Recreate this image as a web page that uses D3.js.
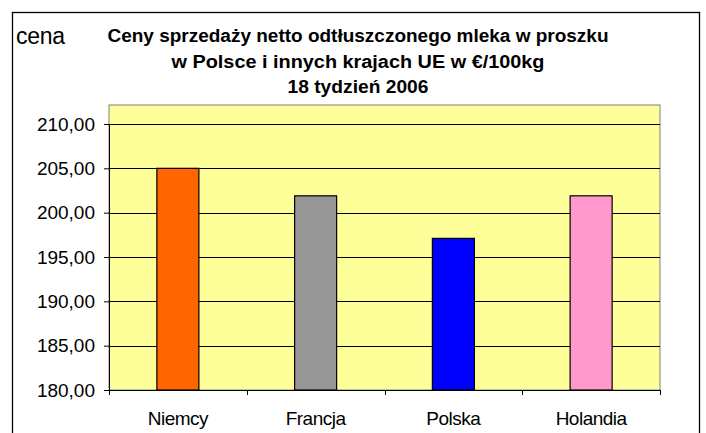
<!DOCTYPE html>
<html>
<head>
<meta charset="utf-8">
<script src="https://cdn.jsdelivr.net/npm/d3@7"></script>
<style>
  body { margin: 0; background: #fff; }
  svg { display: block; font-family: Arial, "Liberation Sans", sans-serif; }
</style>
</head>
<body>
<svg id="chart" width="706" height="433"></svg>
<script>
// dane
const countries = ["Niemcy", "Francja", "Polska", "Holandia"];
const prices = [205.0, 201.9, 197.1, 201.9];
const barColors = ["#FF6600", "#969696", "#0000FF", "#FF99CC"];
const yTicks = [180, 185, 190, 195, 200, 205, 210];
const titleLines = [
    "Ceny sprzedaży netto odtłuszczonego mleka w proszku",
    "w Polsce i innych krajach UE w €/100kg",
    "18 tydzień 2006"
];

const svg = d3.select("#chart");

const plot = { left: 109, right: 660, top: 105, bottom: 390 };

// ramka wykresu
svg.append("rect")
    .attr("x", 12.5).attr("y", 12.5)
    .attr("width", 687).attr("height", 440)
    .attr("fill", "#fff")
    .attr("stroke", "#000")
    .attr("stroke-width", 1.3);

const x = d3.scaleBand()
    .domain(countries)
    .range([plot.left, plot.right])
    .paddingInner(0.695)
    .paddingOuter(0.3475);

const y = d3.scaleLinear()
    .domain([180, 210])
    .range([plot.bottom, 124]);

// tlo obszaru kreslenia
svg.append("rect")
    .attr("x", plot.left).attr("y", plot.top)
    .attr("width", plot.right - plot.left)
    .attr("height", plot.bottom - plot.top)
    .attr("fill", "#FFFF99")
    .attr("stroke", "#808080")
    .attr("stroke-width", 1);

// linie siatki
svg.append("g")
    .selectAll("line")
    .data(yTicks.filter(t => t > 180))
    .join("line")
    .attr("x1", plot.left).attr("x2", plot.right)
    .attr("y1", d => Math.round(y(d)) + 0.5)
    .attr("y2", d => Math.round(y(d)) + 0.5)
    .attr("stroke", "#000")
    .attr("stroke-width", 1);

// slupki
svg.append("g")
    .selectAll("rect")
    .data(prices)
    .join("rect")
    .attr("x", (d, i) => x(countries[i]))
    .attr("y", d => y(d))
    .attr("width", x.bandwidth())
    .attr("height", d => y(180) - y(d))
    .attr("fill", (d, i) => barColors[i])
    .attr("stroke", "#000")
    .attr("stroke-width", 1.2);

// os Y
const yAxis = d3.axisLeft(y)
    .tickValues(yTicks)
    .tickSize(5)
    .tickPadding(9)
    .tickFormat(d => d3.format(".2f")(d).replace(".", ","));

const gy = svg.append("g")
    .attr("transform", `translate(${plot.left},0)`)
    .call(yAxis);
gy.select(".domain").attr("stroke", "#000");
gy.selectAll(".tick line").attr("stroke", "#000");
gy.selectAll(".tick text")
    .attr("font-size", 19)
    .attr("font-family", "Arial, 'Liberation Sans', sans-serif")
    .attr("fill", "#000");

// os X
const xTickScale = d3.scaleLinear().domain([0, countries.length]).range([plot.left, plot.right]);
const gx = svg.append("g");
gx.append("line")
    .attr("x1", plot.left).attr("x2", plot.right)
    .attr("y1", plot.bottom + 0.5).attr("y2", plot.bottom + 0.5)
    .attr("stroke", "#000");
gx.selectAll("line.tick")
    .data(d3.range(countries.length + 1))
    .join("line")
    .attr("class", "tick")
    .attr("x1", d => Math.round(xTickScale(d)) + 0.5)
    .attr("x2", d => Math.round(xTickScale(d)) + 0.5)
    .attr("y1", plot.bottom).attr("y2", plot.bottom + 5)
    .attr("stroke", "#000");
gx.selectAll("text")
    .data(countries)
    .join("text")
    .attr("x", d => x(d) + x.bandwidth() / 2)
    .attr("y", 425)
    .attr("text-anchor", "middle")
    .attr("font-size", 19)
    .attr("letter-spacing", -0.5)
    .text(d => d);

// tytul osi
svg.append("text")
    .attr("x", 16).attr("y", 44)
    .attr("font-size", 23)
    .attr("letter-spacing", -0.3)
    .text("cena");

// tytul
const titleY = [42, 68, 93];
const titleW = [501, 373, 141];
svg.append("g")
    .selectAll("text")
    .data(titleLines)
    .join("text")
    .attr("x", 358)
    .attr("y", (d, i) => titleY[i])
    .attr("text-anchor", "middle")
    .attr("font-size", 18)
    .attr("font-weight", "bold")
    .attr("textLength", (d, i) => titleW[i])
    .attr("lengthAdjust", "spacingAndGlyphs")
    .text(d => d);
</script>
</body>
</html>
